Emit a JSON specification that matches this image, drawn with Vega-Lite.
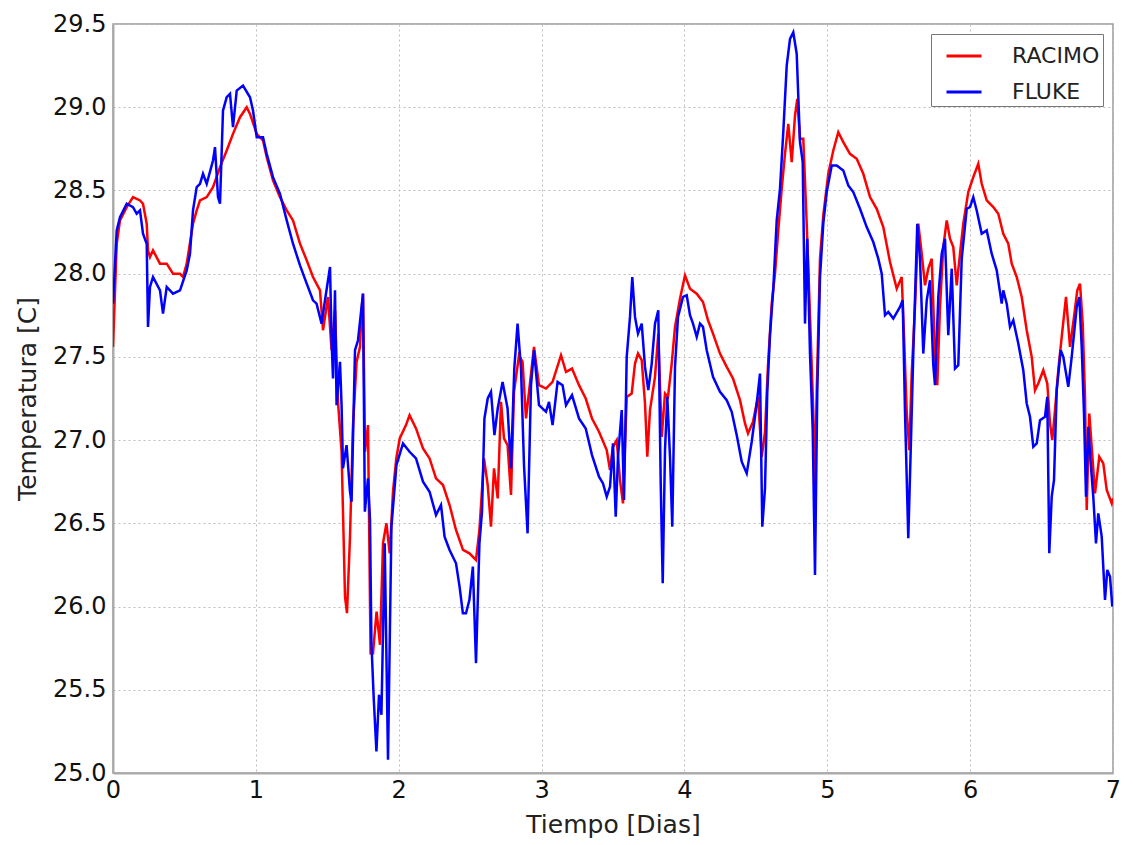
{
"$schema": "https://vega.github.io/schema/vega-lite/v6.json",
"width": 1000, "height": 749,
"autosize": {"type": "none"},
"padding": {"left": 113, "top": 24, "right": 20, "bottom": 72},
"background": "white",
"config": {"font": "DejaVu Sans", "view": {"stroke": "#9a9a9a", "strokeWidth": 1.5}},
"datasets": {
"racimo": [[0,27.56],[0.026,28.18],[0.049,28.32],[0.096,28.40],[0.140,28.46],[0.189,28.44],[0.210,28.42],[0.236,28.30],[0.245,28.14],[0.259,28.10],[0.280,28.14],[0.329,28.06],[0.376,28.06],[0.420,28.00],[0.469,28.00],[0.490,27.98],[0.516,28.06],[0.560,28.30],[0.586,28.38],[0.609,28.44],[0.656,28.46],[0.700,28.52],[0.749,28.64],[0.796,28.74],[0.840,28.84],[0.889,28.94],[0.936,29.00],[0.959,28.96],[1.006,28.84],[1.050,28.80],[1.076,28.70],[1.120,28.56],[1.169,28.46],[1.216,28.38],[1.260,28.32],[1.309,28.18],[1.356,28.08],[1.400,27.98],[1.449,27.90],[1.470,27.66],[1.505,27.86],[1.530,27.54],[1.554,27.78],[1.575,27.23],[1.600,26.93],[1.624,26.06],[1.638,25.96],[1.659,26.42],[1.680,27.09],[1.705,27.47],[1.729,27.56],[1.740,27.78],[1.750,27.88],[1.764,26.93],[1.775,27.01],[1.785,27.09],[1.803,25.72],[1.820,25.72],[1.845,25.97],[1.869,25.77],[1.890,26.38],[1.914,26.50],[1.937,26.32],[1.960,26.69],[1.983,26.89],[2.007,27.01],[2.051,27.09],[2.076,27.15],[2.121,27.07],[2.170,26.95],[2.216,26.89],[2.261,26.77],[2.310,26.73],[2.356,26.61],[2.401,26.46],[2.450,26.34],[2.495,26.32],[2.541,26.28],[2.565,26.46],[2.597,26.89],[2.623,26.73],[2.646,26.48],[2.667,26.83],[2.693,26.65],[2.716,27.23],[2.737,27.01],[2.762,26.97],[2.786,26.67],[2.807,27.29],[2.842,27.51],[2.867,27.47],[2.891,27.13],[2.912,27.29],[2.947,27.56],[2.982,27.33],[3.031,27.31],[3.077,27.35],[3.136,27.51],[3.171,27.41],[3.213,27.43],[3.262,27.33],[3.309,27.25],[3.353,27.13],[3.402,27.05],[3.456,26.94],[3.479,26.82],[3.500,26.96],[3.526,27.00],[3.549,26.76],[3.570,26.62],[3.596,27.26],[3.631,27.28],[3.654,27.46],[3.675,27.52],[3.701,27.48],[3.724,27.22],[3.740,26.90],[3.759,27.18],[3.794,27.38],[3.817,27.64],[3.841,27.02],[3.864,27.28],[3.885,27.26],[3.911,27.46],[3.934,27.68],[3.969,27.85],[4.004,27.99],[4.039,27.91],[4.086,27.88],[4.130,27.83],[4.165,27.72],[4.200,27.64],[4.249,27.52],[4.296,27.44],[4.340,27.37],[4.389,27.24],[4.424,27.10],[4.445,27.04],[4.480,27.11],[4.515,27.26],[4.541,26.90],[4.564,27.05],[4.585,27.45],[4.611,27.82],[4.634,28.00],[4.657,28.26],[4.681,28.51],[4.704,28.72],[4.727,28.90],[4.751,28.67],[4.774,28.95],[4.790,29.05],[4.809,28.81],[4.832,28.81],[4.856,28.30],[4.879,27.75],[4.902,27.17],[4.914,26.71],[4.926,27.29],[4.949,28.09],[4.972,28.35],[5.007,28.60],[5.042,28.74],[5.077,28.85],[5.112,28.79],[5.159,28.72],[5.206,28.69],[5.252,28.60],[5.299,28.46],[5.346,28.39],[5.392,28.28],[5.439,28.07],[5.486,27.91],[5.521,27.98],[5.537,27.63],[5.556,27.17],[5.574,26.94],[5.591,27.40],[5.614,27.80],[5.637,28.30],[5.661,28.12],[5.684,27.93],[5.707,28.03],[5.731,28.09],[5.754,27.52],[5.770,27.33],[5.789,27.80],[5.812,28.16],[5.836,28.32],[5.859,28.21],[5.882,28.16],[5.906,27.93],[5.929,28.12],[5.952,28.30],[5.987,28.49],[6.022,28.58],[6.057,28.66],[6.081,28.54],[6.116,28.44],[6.162,28.40],[6.197,28.36],[6.232,28.24],[6.267,28.18],[6.291,28.06],[6.326,27.98],[6.361,27.86],[6.396,27.66],[6.431,27.50],[6.454,27.30],[6.477,27.34],[6.512,27.42],[6.540,27.34],[6.559,27.10],[6.575,27.00],[6.594,27.18],[6.617,27.42],[6.641,27.62],[6.671,27.86],[6.699,27.56],[6.727,27.74],[6.750,27.90],[6.769,27.94],[6.788,27.70],[6.804,27.26],[6.816,26.58],[6.834,27.16],[6.851,26.96],[6.874,26.68],[6.904,26.90],[6.932,26.86],[6.956,26.70],[6.991,26.62],[7.0,26.65]],
"fluke": [[0,27.82],[0.026,28.26],[0.049,28.34],[0.096,28.42],[0.140,28.40],[0.166,28.36],[0.189,28.38],[0.210,28.24],[0.236,28.18],[0.245,27.68],[0.259,27.92],[0.280,27.98],[0.329,27.90],[0.350,27.76],[0.376,27.92],[0.420,27.88],[0.469,27.90],[0.516,28.02],[0.539,28.12],[0.560,28.38],[0.586,28.52],[0.609,28.54],[0.630,28.60],[0.656,28.54],[0.700,28.68],[0.714,28.76],[0.735,28.46],[0.749,28.42],[0.770,28.98],[0.796,29.06],[0.819,29.08],[0.840,28.88],[0.866,29.10],[0.910,29.13],[0.959,29.06],[0.980,28.98],[1.006,28.82],[1.050,28.82],[1.076,28.72],[1.120,28.58],[1.169,28.48],[1.216,28.32],[1.260,28.18],[1.309,28.05],[1.356,27.94],[1.400,27.84],[1.425,27.82],[1.460,27.70],[1.484,27.84],[1.519,28.04],[1.531,27.58],[1.540,27.37],[1.554,27.90],[1.565,27.21],[1.589,27.47],[1.600,27.21],[1.610,26.83],[1.635,26.97],[1.659,26.69],[1.670,26.63],[1.694,27.54],[1.715,27.60],[1.750,27.88],[1.763,26.57],[1.785,26.77],[1.799,26.52],[1.809,25.78],[1.825,25.45],[1.844,25.13],[1.862,25.47],[1.879,25.35],[1.902,26.38],[1.925,25.08],[1.949,26.48],[1.984,26.85],[2.030,26.98],[2.076,26.93],[2.121,26.89],[2.170,26.75],[2.216,26.69],[2.261,26.55],[2.296,26.61],[2.321,26.42],[2.356,26.34],[2.401,26.26],[2.426,26.12],[2.449,25.96],[2.471,25.96],[2.495,26.04],[2.519,26.24],[2.541,25.66],[2.565,26.38],[2.583,26.57],[2.600,27.13],[2.623,27.25],[2.646,27.29],[2.670,27.03],[2.693,27.19],[2.727,27.35],[2.762,27.19],[2.786,26.83],[2.809,27.43],[2.832,27.70],[2.856,27.43],[2.877,26.85],[2.902,26.44],[2.926,27.33],[2.947,27.54],[2.982,27.21],[3.031,27.17],[3.052,27.23],[3.077,27.09],[3.112,27.35],[3.147,27.33],[3.171,27.21],[3.213,27.27],[3.262,27.13],[3.309,27.07],[3.353,26.91],[3.402,26.78],[3.430,26.74],[3.456,26.66],[3.479,26.72],[3.500,26.98],[3.519,26.54],[3.535,26.90],[3.561,27.18],[3.577,26.64],[3.596,27.50],[3.619,27.74],[3.635,27.98],[3.654,27.74],[3.675,27.64],[3.701,27.70],[3.724,27.44],[3.747,27.30],[3.771,27.46],[3.794,27.70],[3.817,27.78],[3.834,26.74],[3.848,26.14],[3.864,26.94],[3.880,27.26],[3.899,26.90],[3.915,26.48],[3.934,27.44],[3.955,27.74],[3.990,27.86],[4.016,27.87],[4.039,27.75],[4.060,27.70],[4.086,27.62],[4.109,27.70],[4.130,27.68],[4.156,27.54],[4.200,27.38],[4.249,27.29],[4.296,27.24],[4.331,27.17],[4.366,27.03],[4.401,26.87],[4.436,26.80],[4.471,26.99],[4.506,27.22],[4.529,27.40],[4.545,26.48],[4.564,26.71],[4.580,27.29],[4.599,27.63],[4.622,27.91],[4.646,28.32],[4.669,28.51],[4.692,28.85],[4.716,29.25],[4.739,29.41],[4.762,29.45],[4.786,29.32],[4.809,28.79],[4.828,28.67],[4.844,27.70],[4.860,28.21],[4.879,27.52],[4.898,27.06],[4.914,26.19],[4.930,27.29],[4.949,27.98],[4.972,28.30],[4.996,28.49],[5.031,28.65],[5.066,28.65],[5.112,28.62],[5.147,28.53],[5.182,28.49],[5.229,28.39],[5.276,28.28],[5.322,28.19],[5.357,28.09],[5.381,28.00],[5.404,27.75],[5.427,27.77],[5.462,27.73],[5.509,27.80],[5.528,27.84],[5.544,27.17],[5.567,26.41],[5.584,26.94],[5.602,27.52],[5.630,28.30],[5.649,28.09],[5.672,27.52],[5.696,27.84],[5.719,27.96],[5.742,27.45],[5.754,27.33],[5.777,27.86],[5.801,28.12],[5.824,28.21],[5.847,27.63],[5.871,28.03],[5.894,27.43],[5.917,27.45],[5.941,28.09],[5.976,28.39],[5.999,28.40],[6.022,28.46],[6.046,28.38],[6.081,28.24],[6.116,28.26],[6.151,28.12],[6.186,28.02],[6.221,27.82],[6.232,27.90],[6.256,27.82],[6.279,27.68],[6.302,27.72],[6.337,27.58],[6.372,27.42],[6.396,27.22],[6.419,27.14],[6.442,26.96],[6.466,26.98],[6.489,27.12],[6.524,27.14],[6.540,27.26],[6.554,26.32],[6.571,26.66],[6.587,26.76],[6.606,27.30],[6.634,27.54],[6.652,27.50],[6.687,27.32],[6.711,27.50],[6.746,27.80],[6.764,27.86],[6.781,27.56],[6.797,27.16],[6.811,26.66],[6.827,27.08],[6.844,26.86],[6.862,26.66],[6.881,26.38],[6.897,26.56],[6.921,26.42],[6.944,26.04],[6.960,26.22],[6.979,26.18],[6.995,26.00]]
},
"encoding": {
  "x": {"field": "0", "type": "quantitative",
    "scale": {"domain": [0, 7], "nice": false, "zero": false},
    "axis": {"title": "Tiempo [Dias]", "values": [0,1,2,3,4,5,6,7], "format": "d",
      "grid": true, "gridDash": [2, 3], "gridColor": "#bdbdbd", "gridWidth": 1,
      "ticks": false, "labelFontSize": 24, "labelPadding": 5, "labelFlush": false, "labelColor": "#111111",
      "titleFontSize": 25, "titleFontWeight": "normal", "titlePadding": 10, "titleColor": "#222222",
      "domainColor": "#aaaaaa", "domainWidth": 2}},
  "y": {"field": "1", "type": "quantitative",
    "scale": {"domain": [25, 29.5], "nice": false, "zero": false},
    "axis": {"title": "Temperatura [C]", "values": [25,25.5,26,26.5,27,27.5,28,28.5,29,29.5], "format": ".1f",
      "grid": true, "gridDash": [2, 3], "gridColor": "#bdbdbd", "gridWidth": 1,
      "ticks": false, "labelFontSize": 24, "labelPadding": 7, "labelFlush": false, "labelColor": "#111111",
      "titleFontSize": 25, "titleFontWeight": "normal", "titlePadding": 12, "titleColor": "#222222",
      "domainColor": "#aaaaaa", "domainWidth": 2}},
  "color": {"datum": "RACIMO", "type": "nominal",
    "scale": {"domain": ["RACIMO", "FLUKE"], "range": ["#ff0000", "#0000ff"]},
    "legend": {"title": null, "orient": "top-right", "offset": 10, "symbolType": "stroke",
      "symbolSize": 1225, "symbolStrokeWidth": 3, "symbolOffset": 11, "labelFontSize": 22, "labelOffset": 29,
      "padding": 3, "rowPadding": 6, "strokeColor": "#777777", "fillColor": "white",
      "cornerRadius": 0, "labelColor": "#222222"}}
},
"layer": [
  {"data": {"name": "racimo"}, "mark": {"type": "line", "strokeWidth": 2.5, "clip": true}},
  {"data": {"name": "fluke"}, "mark": {"type": "line", "strokeWidth": 2.5, "clip": true},
   "encoding": {"color": {"datum": "FLUKE", "type": "nominal"}}}
]
}
